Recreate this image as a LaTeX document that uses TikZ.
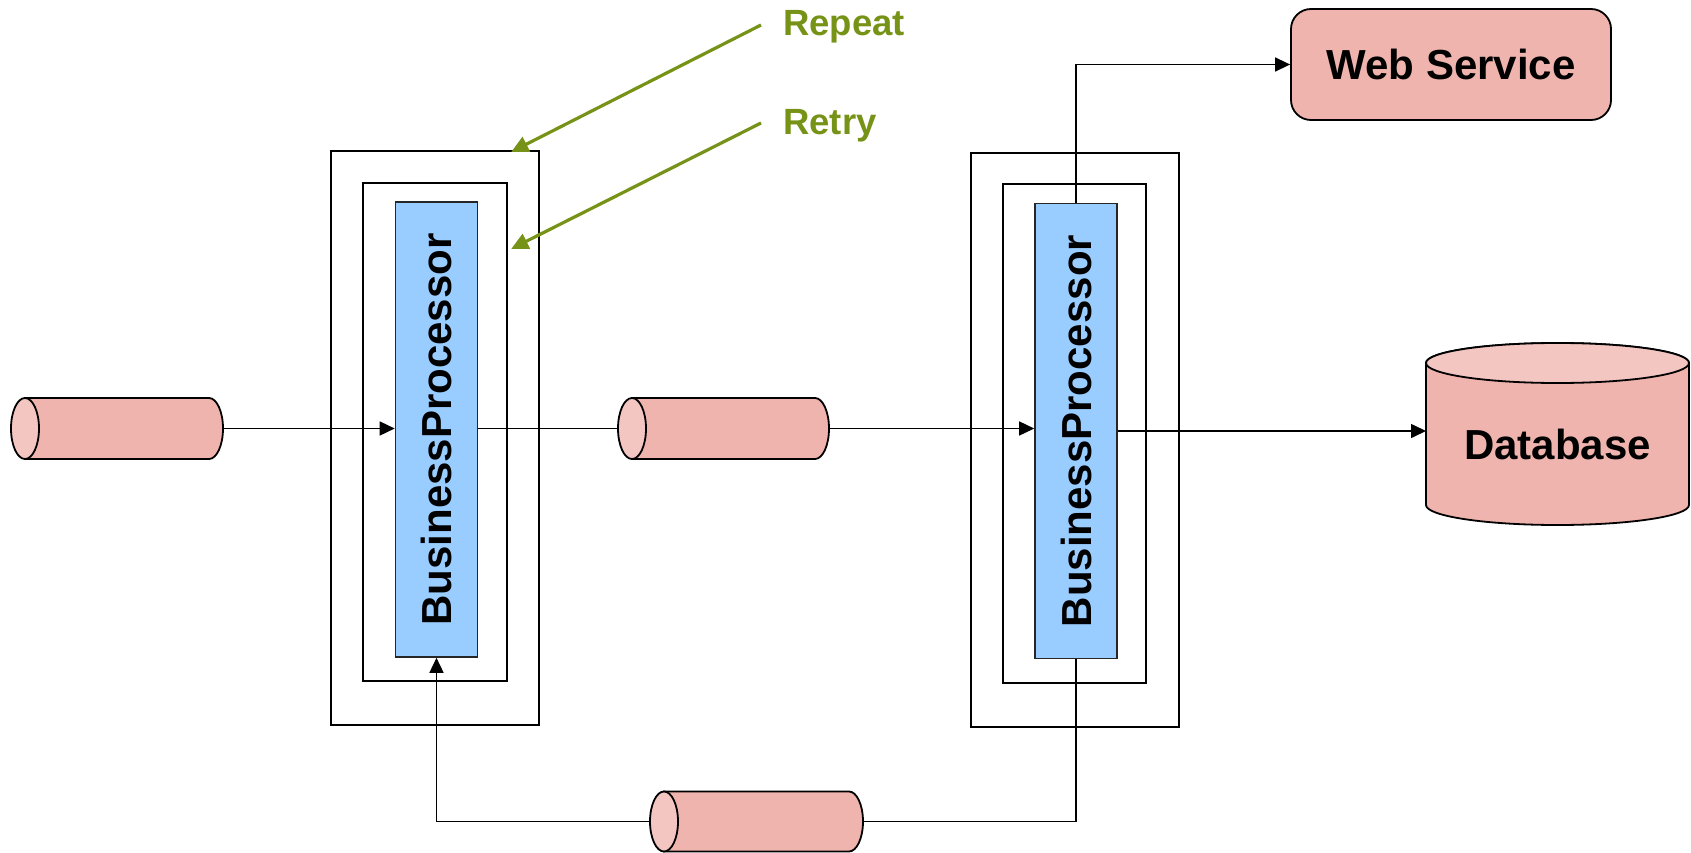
\documentclass[tikz,border=0pt]{standalone}
\usepackage{fontspec}
\setmainfont{Liberation Sans}
\usetikzlibrary{arrows.meta,calc}
\definecolor{qbodyc}{RGB}{240,180,174}
\definecolor{qendc}{RGB}{244,198,194}
\definecolor{bpblue}{RGB}{153,204,255}
\definecolor{olivegr}{RGB}{119,147,23}
\newcommand\drawqueue[3]{% node, half-height, end radius
  \path[qbody] ($(#1.north west)+(#3,0)$) -- ($(#1.north east)+(-#3,0)$)
    arc[start angle=90,end angle=-90,x radius=#3pt,y radius=#2pt]
    -- ($(#1.south west)+(#3,0)$) -- cycle;
  \path[qend] ($(#1.west)+(#3,0)$) ellipse[x radius=#3pt,y radius=#2pt];
}
\begin{document}
\begin{tikzpicture}[x=1pt,y=-1pt,
  anchorbox/.style={inner sep=0pt, outer sep=0pt, draw=none},
  frame/.style={draw, line width=2pt, fill=white, inner sep=0pt},
  bpbox/.style={draw=black!85, line width=1.6pt, fill=bpblue, inner sep=0pt,
    minimum width=82pt, minimum height=455pt},
  bptext/.style={font=\fontsize{42}{50}\selectfont\bfseries, inner sep=0pt, rotate=90},
  qbody/.style={draw, line width=1.8pt, fill=qbodyc},
  qend/.style={draw, line width=1.8pt, fill=qendc},
  web/.style={draw, line width=1.8pt, fill=qbodyc, rounded corners=20pt,
    minimum width=320pt, minimum height=111pt, inner sep=0pt,
    font=\fontsize{42}{50}\selectfont\bfseries},
  lbl/.style={font=\fontsize{42}{50}\selectfont\bfseries, inner sep=0pt},
  glbl/.style={font=\fontsize{36.5}{42}\selectfont\bfseries, text=olivegr, inner sep=0pt},
  conn/.style={line width=1.5pt},
  arr/.style={line width=1.5pt, -{Triangle[length=15pt,width=14pt]}},
  garr/.style={line width=3.2pt, draw=olivegr, -{Triangle[length=17pt,width=16pt]}, shorten >=-2pt}
]
\useasboundingbox (0,0) rectangle (1691,853);

% frames
\node[frame, minimum width=208pt, minimum height=574pt] (f1o) at (435,438) {};
\node[frame, minimum width=144pt, minimum height=498pt] (f1i) at (435,432) {};
\node[bpbox] (bp1) at (436.5,429.5) {};
\node[bptext] (bp1t) at (bp1.center) {BusinessProcessor};

\node[frame, minimum width=208pt, minimum height=574pt] (f2o) at (1075,440) {};
\node[frame, minimum width=143pt, minimum height=499pt] (f2i) at (1074.5,433.5) {};
\node[bpbox] (bp2) at (1076,431) {};
\node[bptext] (bp2t) at (bp2.center) {BusinessProcessor};

% queues
\node[anchorbox, minimum width=212pt, minimum height=61pt] (q1) at (117,428.5) {};
\drawqueue{q1}{30.5}{14}
\node[anchorbox, minimum width=211pt, minimum height=61pt] (q2) at (723.5,428.5) {};
\drawqueue{q2}{30.5}{14}
\node[anchorbox, minimum width=213pt, minimum height=60pt] (q3) at (756.5,821.5) {};
\drawqueue{q3}{30}{14}

% database
\node[anchorbox, minimum width=263pt, minimum height=182pt] (db) at (1557.5,434) {};
\path[qbody] ($(db.north west)+(0,20)$) -- ($(db.south west)+(0,-20)$)
  arc[start angle=180,end angle=360,x radius=131.5pt,y radius=20pt]
  -- ($(db.north east)+(0,20)$)
  arc[start angle=0,end angle=180,x radius=131.5pt,y radius=20pt] -- cycle;
\path[qend] ($(db.north)+(0,20)$) ellipse[x radius=131.5pt,y radius=20pt];
\node[lbl] (dbt) at ($(db.center)+(0,10)$) {Database};

% web service
\node[web] (web) at (1451,64.5) {Web Service};

% connectors
\draw[arr] (q1.east) -- (q1.east -| bp1.west);
\draw[conn] (bp1.east |- q2.west) -- (q2.west);
\draw[arr] (q2.east) -- (q2.east -| bp2.west);
\draw[arr] (bp2.east) -- (bp2.east -| db.west);
\draw[arr] (bp2.north) |- (web.west);
\draw[conn] (bp2.south) |- (q3.east);
\draw[arr] (q3.west) -| (bp1.south);

% annotations
\node[glbl, anchor=base west] (rep) at (783,36) {Repeat};
\node[glbl, anchor=base west] (ret) at (783,135) {Retry};
\coordinate (repS) at (761,25);
\coordinate (repT) at (513,151);
\coordinate (retS) at (761,123);
\coordinate (retT) at (513,248);
\draw[garr] (repS) -- (repT);
\draw[garr] (retS) -- (retT);
\end{tikzpicture}
\end{document}
